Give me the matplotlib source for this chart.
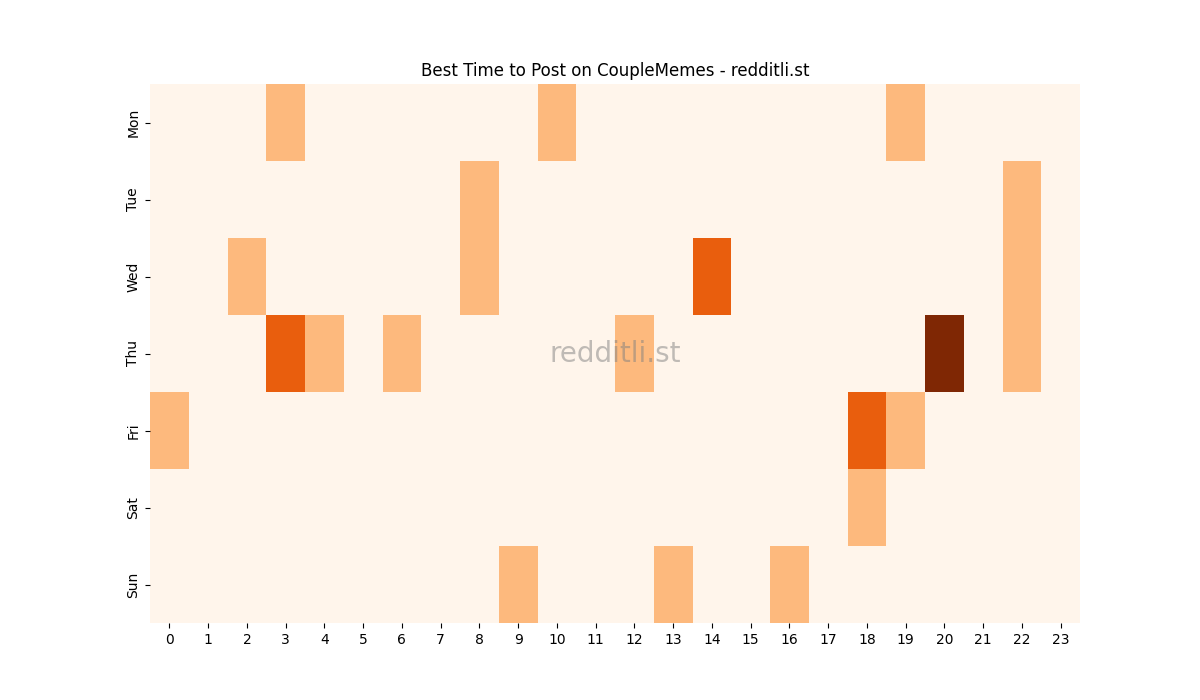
import numpy as np
import pandas as pd
import matplotlib
matplotlib.use("Agg")
import matplotlib.pyplot as plt
import seaborn as sns

days = ["Mon", "Tue", "Wed", "Thu", "Fri", "Sat", "Sun"]
hours = list(range(24))

# (hour, value) pairs for each day, everything else is 0
mon = {3: 1, 10: 1, 19: 1}
tue = {8: 1, 22: 1}
wed = {2: 1, 8: 1, 14: 2, 22: 1}
thu = {3: 2, 4: 1, 6: 1, 12: 1, 20: 3, 22: 1}
fri = {0: 1, 18: 2, 19: 1}
sat = {18: 1}
sun = {9: 1, 13: 1, 16: 1}

rows = [mon, tue, wed, thu, fri, sat, sun]
grid = np.zeros((len(days), len(hours)))
for i, r in enumerate(rows):
    for h, v in r.items():
        grid[i, h] = v

df = pd.DataFrame(grid, index=days, columns=hours)

fig, ax = plt.subplots(figsize=(12, 7), dpi=100)
sns.heatmap(df, cmap="Oranges", cbar=False, ax=ax)
ax.set_title("Best Time to Post on CoupleMemes - redditli.st")
ax.text(0.5, 0.5, "redditli.st", transform=ax.transAxes, ha="center", va="center",
        fontsize=20, color="gray", alpha=0.5)
plt.savefig("out.png")
